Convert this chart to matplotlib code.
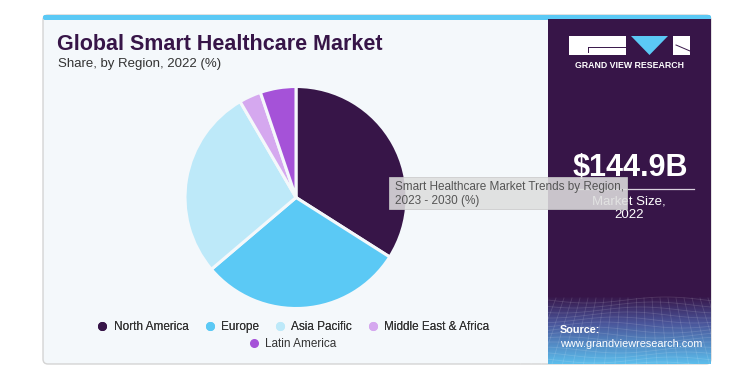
import matplotlib
matplotlib.use("Agg")
import matplotlib.pyplot as plt
import numpy as np
from matplotlib.patches import Rectangle, FancyBboxPatch, Polygon
from matplotlib.lines import Line2D

# ---- data ----
regions = ["North America", "Europe", "Asia Pacific", "Middle East & Africa", "Latin America"]
shares = [34.0, 29.8, 27.8, 3.2, 5.2]
colors = ["#371548", "#5bc9f5", "#bde9f9", "#d5a8ef", "#a552d8"]
title = "Global Smart Healthcare Market"
subtitle = "Share, by Region, 2022 (%)"
market_size = "$144.9B"
market_label = ["Market Size,", "2022"]
tooltip_lines = ["Smart Healthcare Market Trends by Region,", "2023 - 2030 (%)"]

W, H = 745, 379
fig = plt.figure(figsize=(W / 100, H / 100), dpi=100)
fig.patch.set_facecolor("white")

bg = fig.add_axes([0, 0, 1, 1])
bg.set_xlim(0, W)
bg.set_ylim(H, 0)
bg.axis("off")

FONT = "Liberation Sans"

# card
card = FancyBboxPatch((43, 15), 668, 349, boxstyle="round,pad=0,rounding_size=5",
                      fc="#f4f8fb", ec="#d4d4d4", lw=1.0, zorder=1)
bg.add_patch(card)
# top stripe
bg.add_patch(FancyBboxPatch((43, 15), 668, 5, boxstyle="round,pad=0,rounding_size=2",
                            fc="#5bc9f5", ec="none", zorder=2))
# right panel
bg.add_patch(Rectangle((548, 19), 163, 345, fc="#371548", ec="none", zorder=2))

# gradient at the bottom of the right panel
grad = np.linspace(0, 1, 100)
c0 = np.array([0x37, 0x15, 0x48]) / 255
c1 = np.array([0x4a, 0x55, 0x9a]) / 255
c2 = np.array([0x5c, 0xbd, 0xec]) / 255
img = np.zeros((100, 2, 3))
for i, g in enumerate(grad):
    if g < 0.4:
        t = g / 0.4
        img[i, :, :] = c0 * (1 - t) + c1 * t
    else:
        t = (g - 0.4) / 0.6
        img[i, :, :] = c1 * (1 - t) + c2 * t
bg.imshow(img, extent=(548, 711, 364, 296), aspect="auto", zorder=3, interpolation="bilinear")
# wireframe pattern
for k in range(14):
    yy = 300 + k * 5
    xs = np.linspace(548, 711, 40)
    ys = yy + 3 * np.sin((xs - 548) / 25 + k * 0.5)
    bg.plot(xs, ys, color="white", alpha=0.13, lw=0.6, zorder=4)
for k in range(22):
    x0 = 548 + k * 8
    bg.plot([x0, x0 + (k - 11) * 2.5], [298, 364], color="white", alpha=0.13, lw=0.6, zorder=4)

# logo
bg.add_patch(Rectangle((569, 36), 57, 19, fc="white", ec="none", zorder=5))
bg.plot([588, 626], [47, 47], color="#371548", lw=0.7, zorder=6)
bg.plot([588, 588], [47, 52], color="#371548", lw=0.7, zorder=6)
bg.add_patch(Polygon([[631, 36], [668, 36], [649.5, 55]], fc="#5bc9f5", ec="none", zorder=5))
bg.add_patch(Rectangle((673, 36), 17, 19, fc="white", ec="none", zorder=5))
bg.plot([676, 690], [45, 51], color="#371548", lw=0.7, zorder=6)
bg.text(629.5, 66, "GRAND VIEW RESEARCH", color="white", fontsize=6.3, fontweight="bold",
        family=FONT, ha="center", va="center", zorder=6)

# market size
bg.text(630, 168, market_size, color="white", fontsize=22, fontweight="bold",
        family=FONT, ha="center", va="center", zorder=6)
bg.plot([572, 694], [188.5, 188.5], color="#d8d0dd", lw=0.9, zorder=6)
bg.text(629, 201, market_label[0], color="white", fontsize=9.5, family=FONT,
        ha="center", va="center", zorder=6)
bg.text(629, 215, market_label[1], color="white", fontsize=9.5, family=FONT,
        ha="center", va="center", zorder=6)

# source
bg.text(560, 330, "Source:", color="white", fontsize=7.8, fontweight="bold",
        family=FONT, ha="left", va="center", zorder=6)
bg.text(560, 344, "www.grandviewresearch.com", color="white", fontsize=7.8,
        family=FONT, ha="left", va="center", zorder=6)

# titles
bg.text(57, 45, title, color="#371548", fontsize=15.5, fontweight="bold", family=FONT,
        ha="left", va="center", zorder=6)
bg.text(58, 64, subtitle, color="#333333", fontsize=9.5, family=FONT,
        ha="left", va="center", zorder=6)

# pie
cx, cy, r = 296, 197.5, 111
pax = fig.add_axes([(cx - r) / W, (H - cy - r) / H, 2 * r / W, 2 * r / H])
pax.pie(shares, colors=colors, startangle=90, counterclock=False,
        wedgeprops=dict(edgecolor="#f4f8fb", linewidth=2.2))
pax.set_xlim(-1, 1)
pax.set_ylim(-1, 1)
pax.set_aspect("equal")
pax.axis("off")

# legends
def handle(c):
    return Line2D([], [], marker="o", color="none", markerfacecolor=c,
                  markeredgecolor=c, markersize=5.5)

leg1 = fig.legend([handle(c) for c in colors[:4]], regions[:4], ncol=4,
                  loc="center", bbox_to_anchor=(293 / W, 1 - 327 / H), frameon=False,
                  prop=dict(family=FONT, size=8.5), handletextpad=0.45, columnspacing=1.3,
                  handlelength=1.0, labelcolor="#333333")
fig.add_artist(leg1)
leg2 = fig.legend([handle(colors[4])], regions[4:], ncol=1,
                  loc="center", bbox_to_anchor=(292 / W, 1 - 344 / H), frameon=False,
                  prop=dict(family=FONT, size=8.5), handletextpad=0.45,
                  handlelength=1.0, labelcolor="#333333")

# tooltip
tip = fig.add_axes([0, 0, 1, 1], zorder=10)
tip.set_xlim(0, W)
tip.set_ylim(H, 0)
tip.axis("off")
tip.add_patch(Rectangle((389, 177), 238, 32, fc="#dedede", ec="#c8c8c8", lw=0.6, alpha=0.88))
tip.text(395, 187, tooltip_lines[0], color="#555555", fontsize=8.5, family=FONT,
         ha="left", va="center")
tip.text(395, 201, tooltip_lines[1], color="#555555", fontsize=8.5, family=FONT,
         ha="left", va="center")

fig.savefig("out.png", dpi=100)
